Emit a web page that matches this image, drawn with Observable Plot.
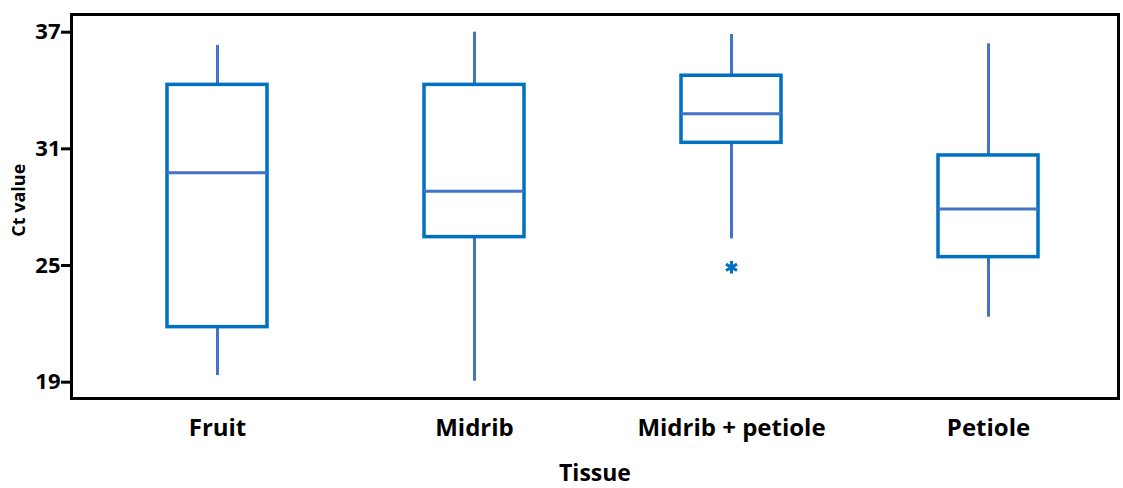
<!DOCTYPE html>
<html>
<head>
<meta charset="utf-8">
<script src="https://cdn.jsdelivr.net/npm/d3@7"></script>
<script src="https://cdn.jsdelivr.net/npm/@observablehq/plot@0.6"></script>
<style>
  html, body { margin: 0; padding: 0; background: #fff; }
  svg { display: block; }
</style>
</head>
<body>
<div id="chart"></div>
<script>
// Ct value box-plot summaries per tissue
const tissues     = ["Fruit", "Midrib", "Midrib + petiole", "Petiole"];
const whiskerLow  = [19.34, 19.05, 26.37, 22.34];
const q1          = [21.83, 26.46, 31.31, 25.43];
const median      = [29.77, 28.82, 32.80, 27.90];
const q3          = [34.29, 34.29, 34.76, 30.66];
const whiskerHigh = [36.32, 37.00, 36.88, 36.40];
// outliers beyond the whiskers
const outlierTissue = ["Midrib + petiole"];
const outlierValue  = [24.91];
const yTicks = [19, 25, 31, 37];

const boxes = tissues.map((t, i) => ({
  tissue: t, lo: whiskerLow[i], q1: q1[i], med: median[i], q3: q3[i], hi: whiskerHigh[i]
}));
const outliers = outlierTissue.map((t, i) => ({tissue: t, value: outlierValue[i]}));

const boxBlue = "#0070C0";
const lineBlue = "#4472C4";
const font = "'Open Sans', sans-serif";

const chart = Plot.plot({
  width: 1123,
  height: 488,
  marginLeft: 71,
  marginRight: 5,
  marginTop: 14,
  marginBottom: 90,
  style: {fontFamily: font, fontWeight: "bold", color: "#000", background: "#fff"},
  x: {type: "band", domain: tissues, insetLeft: 16, paddingInner: 0.612, paddingOuter: 0.306},
  y: {domain: [18.16, 37.91]},
  marks: [
    // whiskers
    Plot.ruleX(boxes, {x: "tissue", y1: "lo", y2: "q1", stroke: lineBlue, strokeWidth: 3}),
    Plot.ruleX(boxes, {x: "tissue", y1: "q3", y2: "hi", stroke: lineBlue, strokeWidth: 3}),
    // interquartile boxes
    Plot.rect(boxes, {x: "tissue", y1: "q1", y2: "q3", fill: "none", stroke: boxBlue, strokeWidth: 3.5}),
    // medians
    Plot.tickY(boxes, {x: "tissue", y: "med", stroke: lineBlue, strokeWidth: 3}),
    // outliers
    Plot.dot(outliers, {x: "tissue", y: "value", symbol: "asterisk", r: 6, stroke: boxBlue, strokeWidth: 3}),
    Plot.frame({stroke: "#000", strokeWidth: 3}),
    Plot.axisY({
      ticks: yTicks, tickSize: 10, tickPadding: 1, strokeWidth: 3,
      fontSize: 22, fontWeight: "bold",
      label: "Ct value", labelAnchor: "center", labelArrow: "none", labelOffset: 59
    }),
    Plot.axisX({
      tickSize: 0, tickPadding: 20, fontSize: 24, fontWeight: "bold",
      label: "Tissue", labelAnchor: "center", labelArrow: "none", labelOffset: 82
    })
  ]
});

// axis title sizes; the y title sits slightly above the frame's middle
chart.querySelectorAll("g[aria-label='y-axis label'] text").forEach(t => {
  t.setAttribute("font-size", 18);
  t.setAttribute("dx", "0.35em");
});
chart.querySelectorAll("g[aria-label='x-axis label'] text").forEach(t => t.setAttribute("font-size", 23));
document.getElementById("chart").appendChild(chart);
</script>
</body>
</html>
